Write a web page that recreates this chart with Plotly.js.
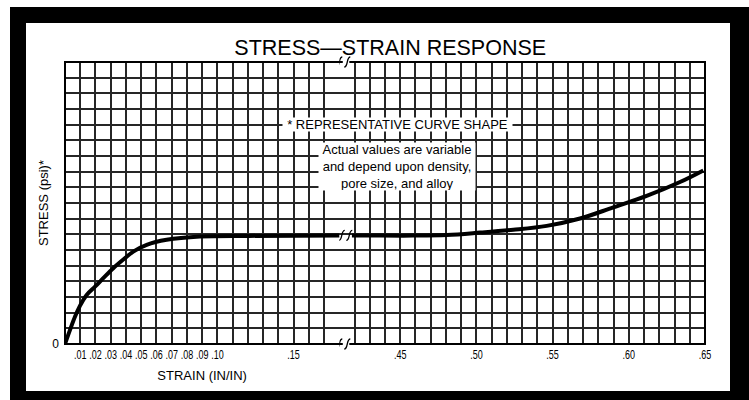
<!DOCTYPE html>
<html><head><meta charset="utf-8">
<script src="https://cdn.plot.ly/plotly-3.0.1.min.js"></script>
<style>
html,body{margin:0;padding:0;background:#fff;width:749px;height:400px;overflow:hidden;}
#frame{position:absolute;left:10px;top:7px;width:739px;height:393px;background:#000;}
#inner{position:absolute;left:26px;top:23px;width:704px;height:368px;background:#fff;}
#chart{position:absolute;left:0;top:0;width:749px;height:400px;}
</style></head><body>
<div id="frame"></div><div id="inner"></div><div id="chart"></div>
<script>
// Curve before the axis break (strain in in/in, stress in grid rows)
const leftStrain = [0, 0.0033, 0.0066, 0.0098, 0.0142, 0.0197, 0.0251, 0.0317, 0.0394, 0.0448, 0.0536, 0.0667, 0.0886, 0.121, 0.1805];
const leftStress = [0, 0.9, 1.75, 2.43, 3.13, 3.66, 4.2, 4.84, 5.48, 5.9, 6.33, 6.65, 6.86, 6.9, 6.93];
// Curve after the axis break
const rightStrain = [0.4183, 0.4367, 0.4584, 0.4805, 0.5023, 0.5242, 0.5461, 0.568, 0.5898, 0.6117, 0.6336, 0.6489];
const rightStress = [6.93, 6.92, 6.92, 6.96, 7.11, 7.29, 7.54, 8.01, 8.72, 9.45, 10.34, 11.08];
// Tick labels
const leftTickVals = [0.01, 0.02, 0.03, 0.04, 0.05, 0.06, 0.07, 0.08, 0.09, 0.10, 0.15];
const leftTickText = ['.01', '.02', '.03', '.04', '.05', '.06', '.07', '.08', '.09', '.10', '.15'];
const rightTickVals = [0.45, 0.50, 0.55, 0.60, 0.65];
const rightTickText = ['.45', '.50', '.55', '.60', '.65'];
const yTickVals = [0];
const yTickText = ['0'];
const leftRange = [0, 0.18];
const rightRange = [0.41, 0.65];
const yRange = [0, 18];

function gridTicks(range, step, vals, texts) {
  const tv = [], tt = [];
  const n = Math.round((range[1] - range[0]) / step);
  for (let k = 0; k <= n; k++) {
    const v = +(range[0] + k * step).toFixed(4);
    tv.push(v);
    const i = vals.findIndex(a => Math.abs(a - v) < 1e-6);
    tt.push(i >= 0 ? texts[i] : '');
  }
  return {tv, tt};
}
const gl = gridTicks(leftRange, 0.01, leftTickVals, leftTickText);
const gr = gridTicks(rightRange, 0.01, rightTickVals, rightTickText);
const gy = gridTicks(yRange, 1, yTickVals, yTickText);

const nL = Math.round((leftRange[1]-leftRange[0])/0.01);
const nR = Math.round((rightRange[1]-rightRange[0])/0.01);
const split = nL / (nL + nR);

const tickFont = {family: '"Liberation Sans", Arial, sans-serif', size: 12.5, color: '#000'};
const gridColor = '#262626';

const axisCommon = {
  showgrid: true, gridcolor: gridColor, gridwidth: 2,
  zeroline: false, showline: false, ticks: '', tickmode: 'array', tickangle: 0,
  tickfont: tickFont, fixedrange: true, ticklabelstandoff: 2
};

const traces = [
  {x: leftStrain, y: leftStress, xaxis: 'x', yaxis: 'y', mode: 'lines',
   line: {color: '#000', width: 4, shape: 'spline', smoothing: 1}, hoverinfo: 'skip'},
  {x: rightStrain, y: rightStress, xaxis: 'x2', yaxis: 'y', mode: 'lines',
   line: {color: '#000', width: 4, shape: 'spline', smoothing: 1}, hoverinfo: 'skip'}
];

const mark = 'M -3,-5 Q -1,-5 0,0 Q 1,5 3,5';
function breakMark(yref, yanchor, dx) {
  return {type: 'path', xref: 'x2', yref: yref, xsizemode: 'pixel', ysizemode: 'pixel',
    xanchor: rightRange[0], yanchor: yanchor,
    path: mark.replace(/(-?\d+),/g, (m, a) => (parseFloat(a) + dx) + ','),
    line: {color: '#000', width: 1.3}, layer: 'above'};
}
function gap(yref, yanchor) {
  return {type: 'line', xref: 'x2', yref: yref, xsizemode: 'pixel', ysizemode: 'pixel',
    xanchor: rightRange[0], yanchor: yanchor, x0: 3.5, x1: 10, y0: 0, y1: 0,
    line: {color: '#fff', width: 4}, layer: 'above'};
}

const layout = {
  width: 749, height: 400,
  margin: {l: 65, r: 44, t: 62, b: 56},
  paper_bgcolor: 'rgba(0,0,0,0)', plot_bgcolor: '#fff',
  showlegend: false,
  font: {family: '"Liberation Sans", Arial, sans-serif', color: '#000'},
  title: {text: 'STRESS\u2014STRAIN RESPONSE', x: 0.521, xanchor: 'center', y: 0.8825, yanchor: 'middle', yref: 'container',
    font: {size: 21.5, family: '"Liberation Sans", Arial, sans-serif', color: '#000'}},
  xaxis: Object.assign({}, axisCommon, {domain: [0, split], range: leftRange, tickvals: gl.tv, ticktext: gl.tt, anchor: 'y',
    title: {text: 'STRAIN (IN/IN)', font: {size: 13}, standoff: 9}}),
  xaxis2: Object.assign({}, axisCommon, {domain: [split, 1], range: rightRange, tickvals: gr.tv, ticktext: gr.tt, anchor: 'y'}),
  yaxis: Object.assign({}, axisCommon, {range: yRange, tickvals: gy.tv, ticktext: gy.tt, anchor: 'x', ticklabelstandoff: 5,
    tickfont: {size: 12, color: '#000'},
    title: {text: 'STRESS (psi)*', font: {size: 13}, standoff: 0}}),
  shapes: [
    {type: 'rect', xref: 'paper', yref: 'paper', x0: 0, x1: 1, y0: 0, y1: 1, line: {color: '#000', width: 2}, layer: 'above'},
    gap('paper', 1), gap('paper', 0),
    breakMark('paper', 1, 0), breakMark('paper', 1, 8),
    breakMark('paper', 0, 0), breakMark('paper', 0, 8),
    breakMark('y', 6.93, 2.5), breakMark('y', 6.93, 10)
  ],
  annotations: [
    {text: '* REPRESENTATIVE CURVE SHAPE', xref: 'paper', yref: 'paper', x: 0.5195, y: 0.8046,
     showarrow: false, bgcolor: '#fff', font: {size: 13}, width: 229, height: 13, borderpad: 0},
    {text: 'Actual values are variable<br>and depend upon density,<br>pore size, and alloy', xref: 'paper', yref: 'paper',
     x: 0.519, y: 0.6306, showarrow: false, bgcolor: '#fff', font: {size: 13}, width: 156, height: 47, borderpad: 0}
  ]
};
Plotly.newPlot('chart', traces, layout, {staticPlot: true, displayModeBar: false}).then(function () {
  // condensed look of the strain tick labels (scaled about each tick's own centre)
  document.querySelectorAll('#chart .xtick text, #chart .x2tick text').forEach(function (t) {
    t.setAttribute('transform', (t.getAttribute('transform') || '') + ' scale(0.72,1)');
  });
});
</script></body></html>
